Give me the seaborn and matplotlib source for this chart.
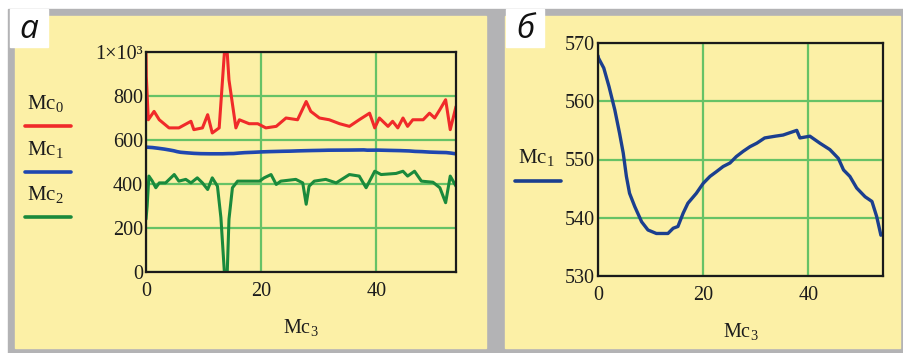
import numpy as np
import pandas as pd
import matplotlib.pyplot as plt
import seaborn as sns
from matplotlib.patches import Rectangle

sns.set_style('white')
plt.rcParams['font.family'] = ['Liberation Serif', 'DejaVu Serif']
plt.rcParams['mathtext.fontset'] = 'custom'
plt.rcParams['mathtext.rm'] = 'Liberation Serif'
plt.rcParams['mathtext.it'] = 'Liberation Serif'

# Mc0 (red)
x_mc0 = [0, 0.05, 0.4, 1.4, 2.3, 4.0, 5.7, 7.8, 8.3, 9.8, 10.7, 11.5, 12.7, 13.6, 14.1, 14.4,
         15.6, 16.2, 17.9, 19.4, 20.8, 22.6, 24.3, 26.3, 27.8, 28.6, 30.1, 31.8, 33.6, 35.3,
         37.0, 38.8, 39.7, 40.5, 42.0, 42.8, 43.7, 44.6, 45.4, 46.3, 48.1, 49.2, 50.1, 51.0,
         52.0, 52.8, 53.8]
y_mc0 = [1000, 890, 692, 730, 692, 655, 655, 685, 647, 655, 715, 632, 655, 994, 994, 873,
         655, 692, 674, 674, 655, 662, 700, 692, 775, 730, 700, 692, 674, 662,
         692, 722, 655, 700, 662, 685, 655, 700, 662, 692, 692, 722, 700, 738,
         783, 647, 752]

# Mc1 (blue) - same series in both panels
x_mc1 = [0, 0.1, 1.1, 2.1, 3.2, 4.1, 4.8, 5.4, 6.0, 7.0, 8.3, 9.5, 11.1, 13.3, 14.3, 15.2,
         16.2, 17.1, 18.7, 20.0, 21.3, 22.5, 23.8, 25.1, 26.3, 27.6, 28.9, 30.2, 31.7, 33.7,
         35.2, 36.5, 37.8, 38.4, 40.3, 42.2, 44.1, 45.7, 46.7, 47.9, 49.2, 50.8, 52.1, 53.0,
         53.8]
y_mc1 = [567.8, 567.4, 565.7, 562.5, 558.5, 554.5, 551.1, 547.1, 544.2, 541.9, 539.3, 537.9,
         537.3, 537.3, 538.2, 538.5, 540.8, 542.5, 544.2, 545.9, 547.1, 547.9, 548.8, 549.4,
         550.5, 551.4, 552.2, 552.8, 553.7, 554.0, 554.2, 554.6, 555.0, 553.7, 554.0, 552.8,
         551.7, 550.2, 548.2, 547.1, 545.1, 543.6, 542.8, 540.2, 537.0]

# Mc2 (green)
x_mc2 = [0, 0.2, 0.5, 1.1, 1.7, 2.3, 3.4, 4.9, 5.7, 6.9, 7.8, 8.9, 9.8, 10.7, 11.5, 12.4,
         13.0, 13.6, 14.1, 14.4, 15.0, 15.9, 17.9, 19.7, 20.5, 21.7, 22.6, 23.4, 26.0, 27.2,
         27.8, 28.3, 29.2, 31.2, 33.0, 35.3, 37.0, 38.2, 39.7, 40.8, 43.4, 44.6, 45.4, 46.6,
         47.8, 49.8, 51.0, 52.0, 52.8, 53.8]
y_mc2 = [240, 300, 436, 413, 383, 405, 405, 443, 413, 421, 405, 428, 405, 375, 428, 390,
         247, 0, 0, 240, 383, 413, 413, 413, 428, 443, 398, 413, 421, 405,
         308, 390, 413, 421, 405, 443, 436, 383, 458, 443, 448, 458, 436, 458,
         413, 408, 383, 315, 436, 390]

yticks_a = [0, 200, 400, 600, 800, 1000]
ytick_labels_a = ['0', '200', '400', '600', '800', '1×10³']
yticks_b = [530, 540, 550, 560, 570]
xticks = [0, 20, 40]

yellow = '#fcf0a6'
gray = '#b3b3b5'
grid_green = '#66c266'
red = '#f02a2a'
blue = '#1f47b0'
navy = '#1b3f8f'
green = '#1a8a3c'
txt = '#1c1c1c'

W, H = 904, 353
fig = plt.figure(figsize=(W / 100, H / 100), dpi=100)
fig.patch.set_facecolor('white')


def frect(x0, y0, x1, y1, color):
    # rectangle in pixel coords (origin top-left)
    fig.patches.append(Rectangle((x0 / W, 1 - y1 / H), (x1 - x0) / W, (y1 - y0) / H,
                                 transform=fig.transFigure, color=color, zorder=-10))


frect(8, 9, 904, 353, gray)
frect(15, 16, 486, 348, yellow)
frect(505, 16, 900, 348, yellow)
frect(10, 9, 48, 47, 'white')
frect(506, 9, 544, 47, 'white')

fig.text(29 / W, 1 - 30 / H, 'а', ha='center', va='center', fontsize=24, style='italic',
         family='Open Sans', color='#111111')
fig.text(525 / W, 1 - 30 / H, 'б', ha='center', va='center', fontsize=24, style='italic',
         family='Open Sans', color='#111111')


def style_axes(ax):
    ax.set_facecolor(yellow)
    ax.grid(True, color=grid_green, linewidth=1.6)
    ax.set_axisbelow(True)
    for s in ax.spines.values():
        s.set_color('#1a1a1a')
        s.set_linewidth(1.6)
    ax.tick_params(axis='both', length=0, labelsize=14.5, colors=txt)
    ax.tick_params(axis='y', pad=2)
    ax.tick_params(axis='x', pad=7)


# panel a
ax1 = fig.add_axes([146 / W, 1 - 272 / H, 310 / W, 220 / H])
df0 = pd.DataFrame({'x': x_mc0, 'y': y_mc0})
df1 = pd.DataFrame({'x': x_mc1, 'y': y_mc1})
df2 = pd.DataFrame({'x': x_mc2, 'y': y_mc2})
sns.lineplot(data=df0, x='x', y='y', ax=ax1, color=red, linewidth=2.2, estimator=None)
sns.lineplot(data=df1, x='x', y='y', ax=ax1, color=blue, linewidth=2.6, estimator=None)
sns.lineplot(data=df2, x='x', y='y', ax=ax1, color=green, linewidth=2.2, estimator=None)
ax1.set_xlim(0, 53.8)
ax1.set_ylim(0, 1000)
ax1.set_xticks(xticks)
ax1.set_yticks(yticks_a)
ax1.set_yticklabels(ytick_labels_a)
ax1.set_xlabel('Mc$_3$', fontsize=14.5, color=txt, labelpad=12)
ax1.set_ylabel('')
style_axes(ax1)

# legend for panel a
for lab, col, ty, ly in [('Mc$_0$', red, 104, 126), ('Mc$_1$', blue, 149, 172),
                         ('Mc$_2$', green, 194, 217)]:
    fig.text(27 / W, 1 - ty / H, lab, ha='left', va='center', fontsize=15, color=txt)
    fig.add_artist(plt.Line2D([25 / W, 71 / W], [1 - ly / H, 1 - ly / H],
                              transform=fig.transFigure, color=col, linewidth=2.6))

# panel b
ax2 = fig.add_axes([598 / W, 1 - 276 / H, 285 / W, 233 / H])
sns.lineplot(data=df1, x='x', y='y', ax=ax2, color=navy, linewidth=2.4, estimator=None)
ax2.set_xlim(0, 54.2)
ax2.set_ylim(530, 570)
ax2.set_xticks(xticks)
ax2.set_yticks(yticks_b)
ax2.set_xlabel('Mc$_3$', fontsize=14.5, color=txt, labelpad=12)
ax2.set_ylabel('')
style_axes(ax2)

fig.text(518 / W, 1 - 158 / H, 'Mc$_1$', ha='left', va='center', fontsize=15, color=txt)
fig.add_artist(plt.Line2D([515 / W, 561 / W], [1 - 181 / H, 1 - 181 / H],
                          transform=fig.transFigure, color=navy, linewidth=2.6))

fig.savefig('out.png', dpi=100)
